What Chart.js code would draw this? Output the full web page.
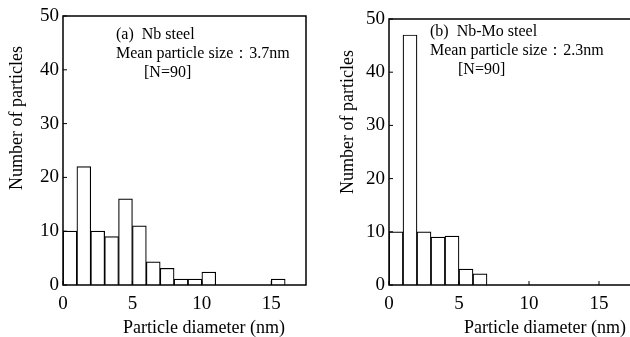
<!DOCTYPE html>
<html>
<head>
<meta charset="utf-8">
<script src="https://cdn.jsdelivr.net/npm/chart.js@4"></script>
<style>
html, body { margin: 0; padding: 0; background: #fff; overflow: hidden; width: 630px; height: 337px; }
.box { position: absolute; top: 0; width: 320px; height: 337px; }
#box-a { left: 0; }
#box-b { left: 320px; }
</style>
</head>
<body>
<div class="box" id="box-a"><canvas id="chart-a"></canvas></div>
<div class="box" id="box-b"><canvas id="chart-b"></canvas></div>
<script>
// bin centres (nm) and particle counts
const diametersA = [0.5, 1.5, 2.5, 3.5, 4.5, 5.5, 6.5, 7.5, 8.5, 9.5, 10.5, 11.5, 12.5, 13.5, 14.5, 15.5];
const countsA    = [10, 22, 10, 9, 16, 11, 4.3, 3.1, 1.1, 1.1, 2.4, 0, 0, 0, 0, 1.1];

const diametersB = [0.5, 1.5, 2.5, 3.5, 4.5, 5.5, 6.5];
const countsB    = [10, 47, 10, 9, 9.2, 3, 2.1];

const yTicks = [0, 10, 20, 30, 40, 50];
const xTicks = [0, 5, 10, 15];

const notesA = ["(a)  Nb steel", "Mean particle size\uFF1A3.7nm", "[N=90]"];
const notesB = ["(b)  Nb-Mo steel", "Mean particle size\uFF1A2.3nm", "[N=90]"];

const yTitle = "Number of particles";
const xTitle = "Particle diameter (nm)";

const serif = '"Liberation Serif", "Times New Roman", serif';

// frame, inward tick marks, titles and notes
const framePlugin = {
  id: "frame",
  afterDraw(chart, args, opts) {
    const ctx = chart.ctx;
    const a = chart.chartArea;
    const xs = chart.scales.x;
    const ys = chart.scales.y;
    ctx.save();
    ctx.strokeStyle = "#000";
    ctx.lineWidth = 1.5;
    ctx.strokeRect(a.left, a.top, a.right - a.left, a.bottom - a.top);

    ctx.lineWidth = 1;
    ctx.beginPath();
    ys.ticks.forEach(t => {
      const py = ys.getPixelForValue(t.value);
      ctx.moveTo(a.left, py);
      ctx.lineTo(a.left + 4, py);
    });
    xs.ticks.forEach(t => {
      const px = xs.getPixelForValue(t.value);
      ctx.moveTo(px, a.bottom);
      ctx.lineTo(px, a.bottom - 4);
    });
    ctx.stroke();

    ctx.fillStyle = "#000";
    ctx.font = "18px " + serif;
    ctx.textBaseline = "middle";
    ctx.textAlign = "center";
    ctx.fillText(xTitle, opts.xTitleX, opts.xTitleY);

    ctx.save();
    ctx.translate(opts.yTitleX, opts.yTitleY);
    ctx.rotate(-Math.PI / 2);
    ctx.fillText(yTitle, 0, 0);
    ctx.restore();

    ctx.font = "16px " + serif;
    ctx.textAlign = "left";
    opts.notes.forEach((line, i) => {
      const indent = i === 2 ? 28 : 0;
      ctx.fillText(line, opts.noteX + indent, opts.noteY + i * 19);
    });
    ctx.restore();
  }
};

function makeHistogram(canvasId, diameters, counts, notes, geo) {
  const ctx = document.querySelector(canvasId).getContext("2d");
  return new Chart(ctx, {
    type: "bar",
    data: {
      datasets: [{
        data: diameters.map((d, i) => ({ x: d, y: counts[i] })),
        backgroundColor: "#fff",
        borderColor: "#000",
        borderWidth: 1.2,
        barPercentage: 1,
        categoryPercentage: 1
      }]
    },
    options: {
      responsive: true,
      maintainAspectRatio: false,
      animation: false,
      layout: { padding: { top: geo.top, right: geo.right, left: 0, bottom: 0 } },
      plugins: {
        legend: { display: false },
        tooltip: { enabled: false },
        frame: {
          notes: notes,
          noteX: geo.noteX, noteY: geo.noteY,
          xTitleX: geo.xTitleX, xTitleY: 328,
          yTitleX: geo.yTitleX, yTitleY: geo.yTitleY
        }
      },
      scales: {
        x: {
          type: "linear",
          min: 0,
          max: 17.5,
          offset: false,
          grid: { display: false, drawTicks: false },
          border: { display: false },
          afterBuildTicks: s => { s.ticks = xTicks.map(v => ({ value: v })); },
          afterFit: s => { s.height = 52; },
          ticks: { color: "#000", padding: 8, maxRotation: 0, font: { family: serif, size: 19 } }
        },
        y: {
          min: 0,
          max: 50,
          grid: { display: false, drawTicks: false },
          border: { display: false },
          afterBuildTicks: s => { s.ticks = yTicks.map(v => ({ value: v })); },
          afterFit: s => { s.width = geo.yWidth; },
          ticks: { color: "#000", padding: 4, font: { family: serif, size: 19 } }
        }
      }
    },
    plugins: [framePlugin]
  });
}

const chartA = makeHistogram("#chart-a", diametersA, countsA, notesA, {
  top: 16, right: 14, yWidth: 63,
  noteX: 116, noteY: 35,
  xTitleX: 204, yTitleX: 17, yTitleY: 118
});

const chartB = makeHistogram("#chart-b", diametersB, countsB, notesB, {
  top: 19, right: 6, yWidth: 69,
  noteX: 110, noteY: 32,
  xTitleX: 225, yTitleX: 28, yTitleY: 122
});
</script>
</body>
</html>
